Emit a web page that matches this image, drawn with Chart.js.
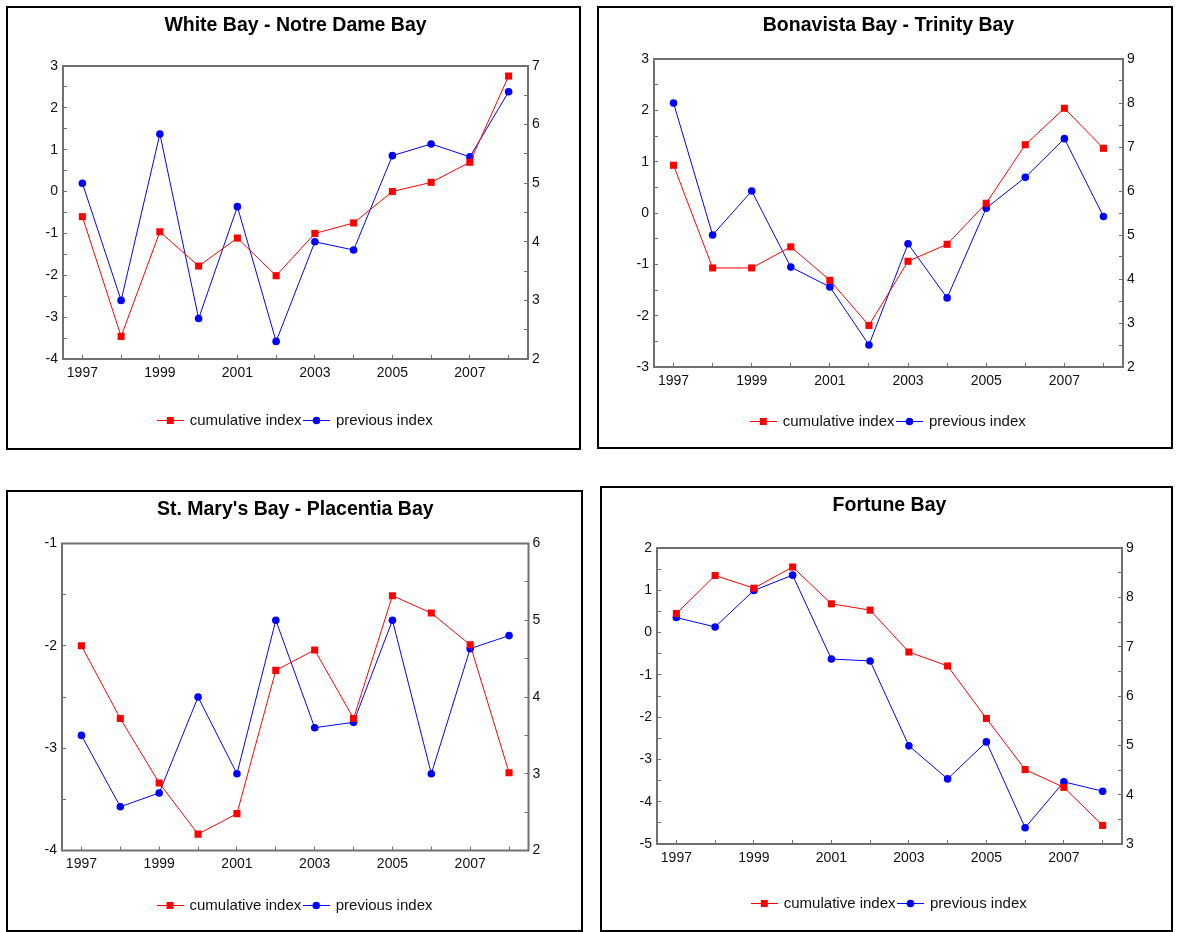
<!DOCTYPE html>
<html>
<head>
<meta charset="utf-8">
<script src="https://cdn.jsdelivr.net/npm/chart.js@4.4.0/dist/chart.umd.min.js"></script>
<style>
    body { margin: 0; background: #fff; width: 1177px; height: 932px; overflow: hidden; }
    .panel { position: absolute; border: 2px solid #000; box-sizing: border-box; background: #fff; }
    .panel canvas { display: block; }
</style>
</head>
<body>
<div class="panel" id="p1"><canvas id="c1"></canvas></div>
<div class="panel" id="p2"><canvas id="c2"></canvas></div>
<div class="panel" id="p3"><canvas id="c3"></canvas></div>
<div class="panel" id="p4"><canvas id="c4"></canvas></div>
<script>
const years = [1997, 1998, 1999, 2000, 2001, 2002, 2003, 2004, 2005, 2006, 2007, 2008];
const labelYears = [1997, 1999, 2001, 2003, 2005, 2007];
const seriesNames = ['cumulative index', 'previous index'];

const whiteCumulative = [-0.60, -3.46, -0.96, -1.78, -1.11, -2.01, -1.00, -0.75, 0.00, 0.22, 0.70, 2.76];
const whitePrevious = [5.00, 3.00, 5.84, 2.69, 4.60, 2.30, 4.00, 3.86, 5.47, 5.67, 5.45, 6.56];

const bonavistaCumulative = [0.93, -1.07, -1.07, -0.66, -1.31, -2.19, -0.94, -0.61, 0.19, 1.33, 2.04, 1.26];
const bonavistaPrevious = [8.00, 5.00, 6.00, 4.27, 3.82, 2.50, 4.80, 3.57, 5.61, 6.31, 7.19, 5.42];

const stMarysCumulative = [-2.00, -2.71, -3.34, -3.84, -3.64, -2.24, -2.04, -2.71, -1.51, -1.68, -1.99, -3.24];
const stMarysPrevious = [3.50, 2.57, 2.75, 4.00, 3.00, 5.00, 3.60, 3.67, 5.00, 3.00, 4.63, 4.80];

const fortuneCumulative = [0.45, 1.35, 1.05, 1.55, 0.68, 0.53, -0.46, -0.79, -2.03, -3.24, -3.66, -4.56];
const fortunePrevious = [7.59, 7.40, 8.14, 8.45, 6.75, 6.71, 4.99, 4.32, 5.07, 3.33, 4.26, 4.07];

// axis ranges: [leftMin, leftMax, rightMin, rightMax]
const whiteRange = [-4, 3, 2, 7];
const bonavistaRange = [-3, 3, 2, 9];
const stMarysRange = [-4, -1, 2, 6];
const fortuneRange = [-5, 2, 3, 9];

const FONT = "'Liberation Sans', Arial, sans-serif";
const RED = '#ff0000';
const BLUE = '#0000ff';
const AXIS_GREY = '#707070';

// layout: pos = [left, top, width, height] of the box, plot = [left, right, top, bottom] in canvas px
const panels = [
    { box: 'p1', canvas: 'c1', title: 'White Bay - Notre Dame Bay', cum: whiteCumulative, prev: whitePrevious, range: whiteRange,
      pos: [6, 6, 575, 444], plot: [55, 520, 58, 351], titleY: 17.5, legendY: 412.5 },
    { box: 'p2', canvas: 'c2', title: 'Bonavista Bay - Trinity Bay', cum: bonavistaCumulative, prev: bonavistaPrevious, range: bonavistaRange,
      pos: [597, 6, 576, 443], plot: [55, 524, 51, 359], titleY: 17.5, legendY: 413.5 },
    { box: 'p3', canvas: 'c3', title: "St. Mary's Bay - Placentia Bay", cum: stMarysCumulative, prev: stMarysPrevious, range: stMarysRange,
      pos: [6, 490, 577, 442], plot: [54, 520.5, 51.5, 358.5], titleY: 18, legendY: 413.5 },
    { box: 'p4', canvas: 'c4', title: 'Fortune Bay', cum: fortuneCumulative, prev: fortunePrevious, range: fortuneRange,
      pos: [600, 486, 573, 446], plot: [55, 520, 60, 356], titleY: 18, legendY: 415.5 }
];

function legendMarker(color, shape) {
    const c = document.createElement('canvas');
    c.width = 27;
    c.height = 9;
    const g = c.getContext('2d');
    g.strokeStyle = color;
    g.fillStyle = color;
    g.lineWidth = 1;
    g.beginPath();
    g.moveTo(0, 4.5);
    g.lineTo(27, 4.5);
    g.stroke();
    if (shape === 'rect') {
        g.fillRect(10, 1, 7, 7);
    } else {
        g.beginPath();
        g.arc(13.5, 4.5, 3.8, 0, Math.PI * 2);
        g.fill();
    }
    return c;
}
const legendImages = [legendMarker(RED, 'rect'), legendMarker(BLUE, 'circle')];

const framePlugin = {
    id: 'frame',
    beforeDatasetsDraw(chart) {
        const a = chart.chartArea;
        const ctx = chart.ctx;
        ctx.save();
        ctx.strokeStyle = AXIS_GREY;
        ctx.lineWidth = 2;
        ctx.strokeRect(a.left, a.top, a.right - a.left, a.bottom - a.top);
        ctx.restore();
    }
};

const TITLE_SIZE = 19.5;
const TICK_SIZE = 14;
const LEGEND_SIZE = 15;
const LEGEND_PAD = 3;
const AXIS_W = 40;

function tickGrid() {
    return { drawOnChartArea: false, drawTicks: true, tickLength: -4, color: AXIS_GREY, tickColor: AXIS_GREY, tickWidth: 1 };
}

panels.forEach(p => {
    const boxEl = document.getElementById(p.box);
    boxEl.style.left = p.pos[0] + 'px';
    boxEl.style.top = p.pos[1] + 'px';
    boxEl.style.width = p.pos[2] + 'px';
    boxEl.style.height = p.pos[3] + 'px';

    const W = p.pos[2] - 4;
    const H = p.pos[3] - 4;
    const canvas = document.getElementById(p.canvas);
    canvas.width = W;
    canvas.height = H;
    canvas.style.width = W + 'px';
    canvas.style.height = H + 'px';

    const [pl, pr, pt, pb] = p.plot;
    const titleLine = TITLE_SIZE * 1.2;
    const legendH = LEGEND_SIZE + LEGEND_PAD + 10;
    const legendTop = p.legendY - LEGEND_PAD - LEGEND_SIZE / 2;
    const xAxisH = legendTop - pb;

    new Chart(canvas, {
        type: 'line',
        data: {
            datasets: [
                {
                    label: seriesNames[0],
                    data: years.map((y, i) => ({ x: y, y: p.cum[i] })),
                    yAxisID: 'yL',
                    borderColor: RED,
                    backgroundColor: RED,
                    borderWidth: 1,
                    pointStyle: 'rect',
                    pointRadius: 5,
                    pointBorderWidth: 0,
                    tension: 0
                },
                {
                    label: seriesNames[1],
                    data: years.map((y, i) => ({ x: y, y: p.prev[i] })),
                    yAxisID: 'yR',
                    borderColor: BLUE,
                    backgroundColor: BLUE,
                    borderWidth: 1,
                    pointStyle: 'circle',
                    pointRadius: 3.8,
                    pointBorderWidth: 0,
                    tension: 0
                }
            ]
        },
        options: {
            responsive: false,
            animation: false,
            devicePixelRatio: 1,
            layout: {
                padding: { left: pl - AXIS_W, right: W - pr - AXIS_W, top: 0, bottom: H - legendTop - legendH }
            },
            plugins: {
                tooltip: { enabled: false },
                title: {
                    display: true,
                    text: p.title,
                    color: '#000',
                    font: { family: FONT, size: TITLE_SIZE, weight: 'bold', lineHeight: 1.2 },
                    padding: { top: p.titleY - titleLine / 2, bottom: pt - p.titleY - titleLine / 2 }
                },
                legend: {
                    position: 'bottom',
                    labels: {
                        usePointStyle: true,
                        pointStyleWidth: 24,
                        padding: LEGEND_PAD,
                        color: '#111',
                        font: { family: FONT, size: LEGEND_SIZE },
                        generateLabels: chart => {
                            const items = Chart.defaults.plugins.legend.labels.generateLabels(chart);
                            items.forEach((it, i) => { it.pointStyle = legendImages[i]; });
                            return items;
                        }
                    }
                }
            },
            scales: {
                x: {
                    type: 'linear',
                    min: years[0] - 0.5,
                    max: years[years.length - 1] + 0.5,
                    afterBuildTicks: s => { s.ticks = years.map(v => ({ value: v })); },
                    afterFit: s => { s.height = xAxisH; },
                    grid: tickGrid(),
                    border: { display: false },
                    ticks: {
                        autoSkip: false,
                        maxRotation: 0,
                        padding: 9.5,
                        color: '#111',
                        font: { family: FONT, size: TICK_SIZE },
                        callback: v => labelYears.includes(v) ? String(v) : ''
                    }
                },
                yL: {
                    position: 'left',
                    min: p.range[0],
                    max: p.range[1],
                    afterFit: s => { s.width = AXIS_W; },
                    grid: tickGrid(),
                    border: { display: false },
                    ticks: {
                        stepSize: 0.5,
                        autoSkip: false,
                        padding: 9,
                        color: '#111',
                        font: { family: FONT, size: TICK_SIZE },
                        callback: v => Number.isInteger(v) ? String(v) : ''
                    }
                },
                yR: {
                    position: 'right',
                    min: p.range[2],
                    max: p.range[3],
                    afterFit: s => { s.width = AXIS_W; },
                    grid: tickGrid(),
                    border: { display: false },
                    ticks: {
                        stepSize: 0.5,
                        autoSkip: false,
                        padding: 8,
                        color: '#111',
                        font: { family: FONT, size: TICK_SIZE },
                        callback: v => Number.isInteger(v) ? String(v) : ''
                    }
                }
            }
        },
        plugins: [framePlugin]
    });
});
</script>
</body>
</html>
